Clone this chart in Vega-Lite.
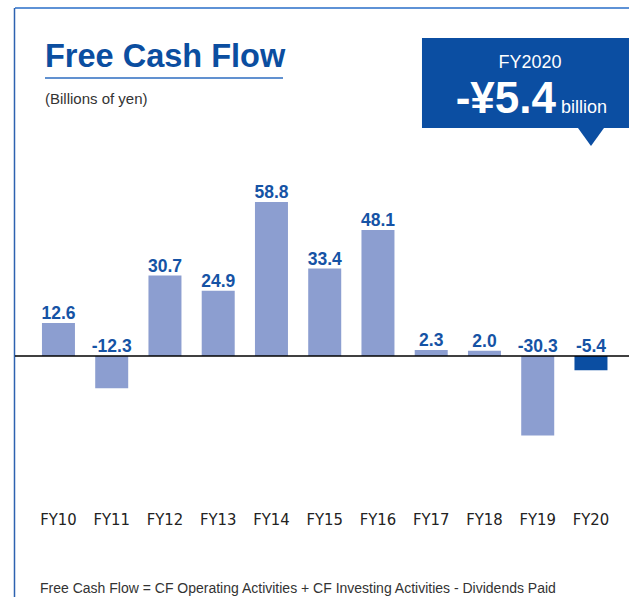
{
  "$schema": "https://vega.github.io/schema/vega-lite/v6.json",
  "width": 614,
  "height": 597,
  "autosize": {"type": "none"},
  "padding": {"left": 15, "top": 0, "right": 0, "bottom": 0},
  "background": "white",
  "config": {"view": {"stroke": null}, "text": {"font": "Liberation Sans"}},
  "data": {"values": [
    {"year": "FY10", "value": 12.6, "label": "12.6"},
    {"year": "FY11", "value": -12.3, "label": "-12.3"},
    {"year": "FY12", "value": 30.7, "label": "30.7"},
    {"year": "FY13", "value": 24.9, "label": "24.9"},
    {"year": "FY14", "value": 58.8, "label": "58.8"},
    {"year": "FY15", "value": 33.4, "label": "33.4"},
    {"year": "FY16", "value": 48.1, "label": "48.1"},
    {"year": "FY17", "value": 2.3, "label": "2.3"},
    {"year": "FY18", "value": 2.0, "label": "2.0"},
    {"year": "FY19", "value": -30.3, "label": "-30.3"},
    {"year": "FY20", "value": -5.4, "label": "-5.4"}
  ]},
  "layer": [
    {
      "mark": {"type": "bar"},
      "encoding": {
        "x": {
          "field": "year",
          "type": "nominal",
          "sort": null,
          "scale": {
            "domain": ["FY10", "FY11", "FY12", "FY13", "FY14", "FY15", "FY16", "FY17", "FY18", "FY19", "FY20"],
            "paddingInner": 0.3803,
            "paddingOuter": 0.4552,
            "align": 0.556
          },
          "axis": {
            "orient": "bottom",
            "offset": -85,
            "domain": false,
            "ticks": false,
            "tickSize": 0,
            "grid": false,
            "labelPadding": 12,
            "labelBaseline": "alphabetic",
            "labelAngle": 0,
            "labelFont": "DejaVu Sans Condensed, Liberation Sans Narrow, Liberation Sans, sans-serif",
            "labelFontSize": 16.5,
            "labelColor": "#222222",
            "title": null
          }
        },
        "y": {
          "field": "value",
          "type": "quantitative",
          "scale": {"domain": [-91.98, 135.88], "nice": false, "zero": false},
          "axis": null
        },
        "color": {
          "condition": {"test": "datum.year === 'FY20'", "value": "#0B4EA2"},
          "value": "#8C9ED0"
        }
      }
    },
    {
      "data": {"values": [{"item": "top border"}]},
      "mark": {"type": "rule", "color": "#5E92D6", "strokeWidth": 2},
      "encoding": {"y": {"datum": 132.82, "type": "quantitative", "axis": null}}
    },
    {
      "data": {"values": [{"item": "left border"}]},
      "mark": {"type": "rule", "color": "#2D62B0", "strokeWidth": 1.5},
      "encoding": {
        "x": {"datum": "FY10", "type": "nominal", "bandPosition": -0.832},
        "y": {"datum": 132.82, "type": "quantitative", "axis": null},
        "y2": {"datum": -91.98}
      }
    },
    {
      "data": {"values": [{"item": "zero line"}]},
      "mark": {"type": "rule", "color": "#000000", "strokeWidth": 1.3},
      "encoding": {"y": {"datum": 0, "type": "quantitative", "axis": null}}
    },
    {
      "transform": [{"filter": "datum.value >= 0"}],
      "mark": {"type": "text", "align": "center", "baseline": "alphabetic", "dy": -4, "fontWeight": "bold", "fontSize": 17.5, "color": "#1553A5"},
      "encoding": {
        "x": {"field": "year", "type": "nominal"},
        "y": {"field": "value", "type": "quantitative", "axis": null},
        "text": {"field": "label"}
      }
    },
    {
      "transform": [{"filter": "datum.value < 0"}],
      "mark": {"type": "text", "align": "center", "baseline": "alphabetic", "dy": -4, "fontWeight": "bold", "fontSize": 17.5, "color": "#1553A5"},
      "encoding": {
        "x": {"field": "year", "type": "nominal"},
        "y": {"datum": 0, "type": "quantitative", "axis": null},
        "text": {"field": "label"}
      }
    },
    {
      "data": {"values": [{"text": "Free Cash Flow"}]},
      "mark": {"type": "text", "align": "left", "baseline": "alphabetic", "fontWeight": "bold", "fontSize": 32.5, "color": "#0B4EA0"},
      "encoding": {
        "x": {"datum": "FY10", "type": "nominal", "bandPosition": 0.092},
        "y": {"datum": 110.31, "type": "quantitative", "axis": null},
        "text": {"field": "text"}
      }
    },
    {
      "data": {"values": [{"item": "title underline"}]},
      "mark": {"type": "rule", "color": "#2D6CC0", "strokeWidth": 1.5},
      "encoding": {
        "x": {"datum": "FY10", "type": "nominal", "bandPosition": 0.092},
        "x2": {"datum": "FY14", "bandPosition": 0.85},
        "y": {"datum": 106.11, "type": "quantitative", "axis": null}
      }
    },
    {
      "data": {"values": [{"text": "(Billions of yen)"}]},
      "mark": {"type": "text", "align": "left", "baseline": "alphabetic", "fontSize": 15, "color": "#333333"},
      "encoding": {
        "x": {"datum": "FY10", "type": "nominal", "bandPosition": 0.092},
        "y": {"datum": 96.18, "type": "quantitative", "axis": null},
        "text": {"field": "text"}
      }
    },
    {
      "data": {"values": [{"item": "FY2020 box"}]},
      "mark": {"type": "rect", "color": "#0B4EA2"},
      "encoding": {
        "x": {"datum": "FY17", "type": "nominal", "bandPosition": 0.22},
        "x2": {"datum": "FY20", "bandPosition": 1.652},
        "y": {"datum": 121.37, "type": "quantitative", "axis": null},
        "y2": {"datum": 87.02}
      }
    },
    {
      "data": {"values": [{"item": "pointer"}]},
      "mark": {"type": "point", "shape": "M-1,-0.69L1,-0.69L0,0.69Z", "size": 676, "filled": true, "opacity": 1, "color": "#0B4EA2", "strokeWidth": 0},
      "encoding": {
        "x": {"datum": "FY20", "type": "nominal"},
        "y": {"datum": 83.59, "type": "quantitative", "axis": null}
      }
    },
    {
      "data": {"values": [{"text": "FY2020"}]},
      "mark": {"type": "text", "align": "center", "baseline": "alphabetic", "fontSize": 18, "color": "#FFFFFF"},
      "encoding": {
        "x": {"datum": "FY19", "type": "nominal", "bandPosition": 0.266},
        "y": {"datum": 109.92, "type": "quantitative", "axis": null},
        "text": {"field": "text"}
      }
    },
    {
      "data": {"values": [{"text": "-¥5.4"}]},
      "mark": {"type": "text", "align": "right", "baseline": "alphabetic", "fontSize": 44, "fontWeight": "bold", "color": "#FFFFFF"},
      "encoding": {
        "x": {"datum": "FY20", "type": "nominal", "bandPosition": -0.56},
        "y": {"datum": 92.75, "type": "quantitative", "axis": null},
        "text": {"field": "text"}
      }
    },
    {
      "data": {"values": [{"text": "billion"}]},
      "mark": {"type": "text", "align": "left", "baseline": "alphabetic", "fontSize": 18, "color": "#FFFFFF"},
      "encoding": {
        "x": {"datum": "FY20", "type": "nominal", "bandPosition": -0.408},
        "y": {"datum": 92.75, "type": "quantitative", "axis": null},
        "text": {"field": "text"}
      }
    },
    {
      "data": {"values": [{"text": "Free Cash Flow = CF Operating Activities + CF Investing Activities - Dividends Paid"}]},
      "mark": {"type": "text", "align": "left", "baseline": "alphabetic", "fontSize": 14, "color": "#333333"},
      "encoding": {
        "x": {"datum": "FY10", "type": "nominal", "bandPosition": -0.059},
        "y": {"datum": -90.5, "type": "quantitative", "axis": null},
        "text": {"field": "text"}
      }
    }
  ]
}
